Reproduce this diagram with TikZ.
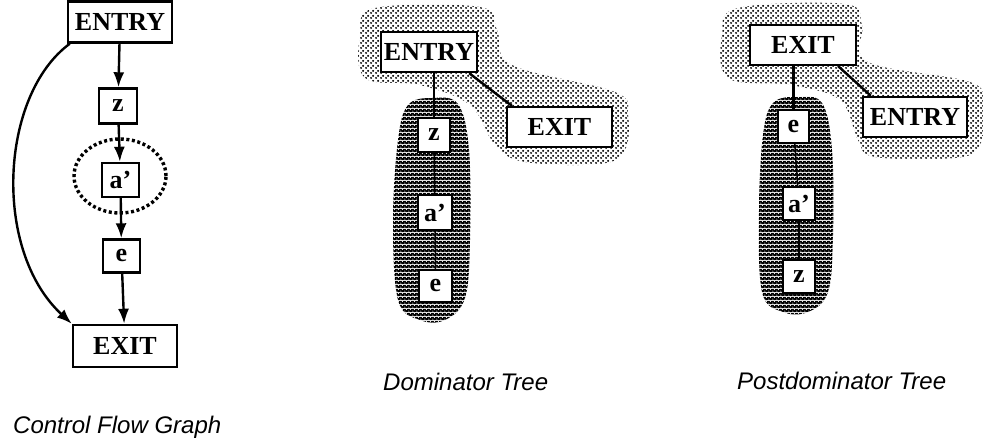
\documentclass[tikz,border=0pt]{standalone}
\usepackage{fontspec}
\setmainfont{Liberation Serif}
\newfontfamily\capfont{Liberation Sans}
\usetikzlibrary{arrows.meta,calc,patterns.meta}
\tikzdeclarepattern{name=lightdots,type=uncolored,
  bounding box={(0pt,0pt) and (5pt,5pt)},tile size={(5pt,5pt)},
  code={\fill (1.25pt,1.25pt) circle (1.3pt); \fill (3.75pt,3.75pt) circle (1.3pt);}}
\tikzdeclarepattern{name=darkdots,type=colored,
  bounding box={(0pt,0pt) and (4pt,4pt)},tile size={(4pt,4pt)},
  code={\fill[black] (0pt,0pt) rectangle (4pt,4pt);
        \fill[white] (1pt,1pt) circle (0.65pt); \fill[white] (3pt,3pt) circle (0.65pt);}}
\begin{document}
\begin{tikzpicture}[x=1pt,y=-1pt,
  box/.style={draw,line width=2.4pt,fill=white,inner sep=0pt,
    font=\fontsize{26}{30}\selectfont\bfseries},
  arr/.style={line width=2.4pt,-{Latex[length=15pt,width=11pt]}},
  tline/.style={line width=2.4pt},
  thinl/.style={line width=1.5pt},
  lightblob/.style={pattern={lightdots},pattern color=black},
  darkblob/.style={pattern={darkdots}},
  caption/.style={anchor=base west,inner sep=0pt,font=\capfont\itshape\fontsize{24}{28}\selectfont}]
\useasboundingbox (0,0) rectangle (983,444);

% ---------- blobs ----------
\fill[lightblob] plot[smooth cycle,tension=0.6] coordinates{
  (360,35) (375,8) (480,7) (497,30) (512,65) (615,92) (628,115) (625,150)
  (600,164) (525,162) (495,145) (470,105) (420,85) (365,78)};
\fill[darkblob] plot[smooth cycle,tension=0.6] coordinates{
  (432,98) (458,104) (469,150) (470,240) (465,298) (445,320) (420,320)
  (398,300) (393,220) (398,140) (408,105)};
\fill[lightblob] plot[smooth cycle,tension=0.6] coordinates{
  (722,35) (738,8) (845,4) (862,25) (868,62) (970,82) (983,105) (980,145)
  (955,158) (875,157) (858,140) (840,100) (790,85) (728,78)};
\fill[darkblob] plot[smooth cycle,tension=0.6] coordinates{
  (797,97) (822,103) (832,150) (833,235) (828,292) (808,312) (783,312)
  (762,292) (759,210) (763,135) (773,103)};

% ---------- Control flow graph ----------
\node[box,minimum width=104,minimum height=41] (cENTRY) at (120,22) {ENTRY};
\node[box,minimum width=38,minimum height=35] (cz) at (118,106) {z};
\node[box,minimum width=37,minimum height=34] (ca) at (120.5,180) {a\textquoteright};
\node[box,minimum width=37,minimum height=33] (ce) at (121.5,256) {e};
\node[box,minimum width=104,minimum height=42] (cEXIT) at (125,346) {EXIT};
\draw[line width=3.4pt,dash pattern=on 3pt off 2.6pt]
  (120,176) ellipse [x radius=46pt,y radius=37pt];
\draw[arr] (cENTRY) -- (cz);
\draw[arr] (cz) -- (ca);
\draw[arr] (ca) -- (ce);
\draw[arr] (ce) -- (cEXIT);
\draw[arr] ($(cENTRY.south west)+(3,0)$) .. controls (0,95) and (-8,250) .. (cEXIT.north west);
\node[caption] (cap1) at (13,433) {Control Flow Graph};

% ---------- Dominator tree ----------
\node[box,minimum width=96,minimum height=40] (dENTRY) at (429,52) {ENTRY};
\node[box,minimum width=105,minimum height=40] (dEXIT) at (559.5,127) {EXIT};
\node[box,minimum width=32,minimum height=34] (dz) at (434,135) {z};
\node[box,minimum width=34,minimum height=35] (da) at (435,212.5) {a\textquoteright};
\node[box,minimum width=33,minimum height=32] (de) at (435.5,286) {e};
\draw[tline] (dENTRY.south -| dz.north) -- (dz.north);
\draw[thinl] (dz) -- (da);
\draw[thinl] (da) -- (de);
\draw[tline] ($(dENTRY.south east)+(-9,0)$) -- ($(dEXIT.north west)+(6,0)$);
\node[caption] (cap2) at (383,390) {Dominator Tree};

% ---------- Postdominator tree ----------
\node[box,minimum width=106,minimum height=40] (pEXIT) at (803,45) {EXIT};
\node[box,minimum width=104,minimum height=40] (pENTRY) at (915,117) {ENTRY};
\node[box,minimum width=31,minimum height=33] (pe) at (793.5,126.5) {e};
\node[box,minimum width=32,minimum height=33] (pa) at (799,203.5) {a\textquoteright};
\node[box,minimum width=32,minimum height=33] (pz) at (799,276.5) {z};
\draw[tline] (pEXIT.south -| pe.north) -- (pe.north);
\draw[thinl] (pe) -- (pa);
\draw[thinl] (pa) -- (pz);
\draw[tline] ($(pEXIT.south east)+(-19,0)$) -- ($(pENTRY.north west)+(9,0)$);
\node[caption] (cap3) at (737,389) {Postdominator Tree};
\end{tikzpicture}
\end{document}
